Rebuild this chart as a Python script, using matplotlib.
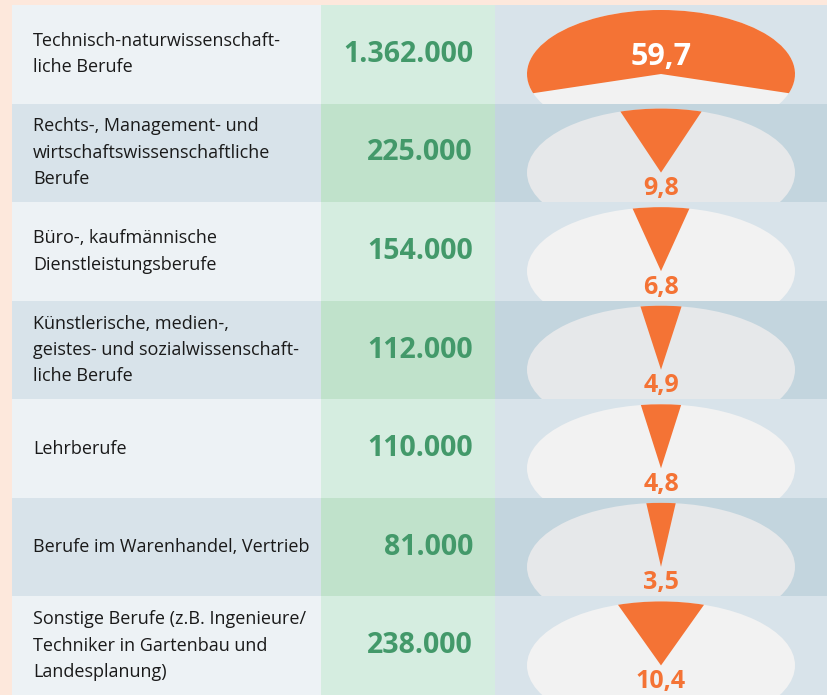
import matplotlib.pyplot as plt
from matplotlib.patches import Rectangle, Ellipse, Wedge
from matplotlib.transforms import Affine2D

W, H = 827, 695

categories = [
    'Technisch-naturwissenschaft-\nliche Berufe',
    'Rechts-, Management- und\nwirtschaftswissenschaftliche\nBerufe',
    'Büro-, kaufmännische\nDienstleistungsberufe',
    'Künstlerische, medien-,\ngeistes- und sozialwissenschaft-\nliche Berufe',
    'Lehrberufe',
    'Berufe im Warenhandel, Vertrieb',
    'Sonstige Berufe (z.B. Ingenieure/\nTechniker in Gartenbau und\nLandesplanung)',
]
counts = [1362000, 225000, 154000, 112000, 110000, 81000, 238000]
shares = [59.7, 9.8, 6.8, 4.9, 4.8, 3.5, 10.4]

PEACH = '#fde8dc'
ORANGE = '#f47335'
GREEN = '#43996a'
ROW_COLORS = {
    0: ('#edf2f5', '#d5ede0', '#d8e3ea', '#f2f2f2'),
    1: ('#d8e3ea', '#c0e2cb', '#c3d5de', '#e6e8ea'),
}

top, row_h = 5, (H - 5) / 7
x_label, x_num, x_pie = 12, 321, 495

fig = plt.figure(figsize=(W / 100, H / 100), dpi=100)
fig.patch.set_facecolor(PEACH)
ax = fig.add_axes([0, 0, 1, 1])
ax.set_xlim(0, W)
ax.set_ylim(H, 0)
ax.axis('off')

font = 'Open Sans'
for i, (cat, n, s) in enumerate(zip(categories, counts, shares)):
    y0 = top + i * row_h
    yc = y0 + row_h / 2
    c_lab, c_num, c_pie, c_ell = ROW_COLORS[i % 2]
    ax.add_patch(Rectangle((x_label, y0), x_num - x_label, row_h, color=c_lab, lw=0))
    ax.add_patch(Rectangle((x_num, y0), x_pie - x_num, row_h, color=c_num, lw=0))
    cell = Rectangle((x_pie, y0), W - x_pie, row_h, color=c_pie, lw=0)
    ax.add_patch(cell)

    ax.text(33, yc, cat, ha='left', va='center', fontsize=13,
            family=font, color='#1a1a1a', linespacing=1.6)
    ax.text(473, yc, f'{n:,}'.replace(',', '.'), ha='right', va='center',
            fontsize=20.5, family=font, fontweight='bold', color=GREEN)

    # squashed pie: ellipse + wedge pointing up from centre
    cx, cy = 661, y0 + 69
    ell = Ellipse((cx, cy), 268, 128, color=c_ell, lw=0)
    ax.add_patch(ell)
    ell.set_clip_path(cell)
    half = s / 100 * 360 / 2
    tr = Affine2D().scale(134, 64).translate(cx, cy) + ax.transData
    wd = Wedge((0, 0), 1, 270 - half, 270 + half, color=ORANGE, lw=0, transform=tr)
    ax.add_patch(wd)
    wd.set_clip_path(cell)

    lbl = f'{s:.1f}'.replace('.', ',')
    if s > 50:
        ax.text(cx, cy - 17, lbl, ha='center', va='center', fontsize=22,
                family=font, fontweight='bold', color='white')
    else:
        ax.text(cx, cy + 16, lbl, ha='center', va='center', fontsize=18,
                family=font, fontweight='bold', color=ORANGE)

fig.savefig('out.png', dpi=100, facecolor=PEACH)
